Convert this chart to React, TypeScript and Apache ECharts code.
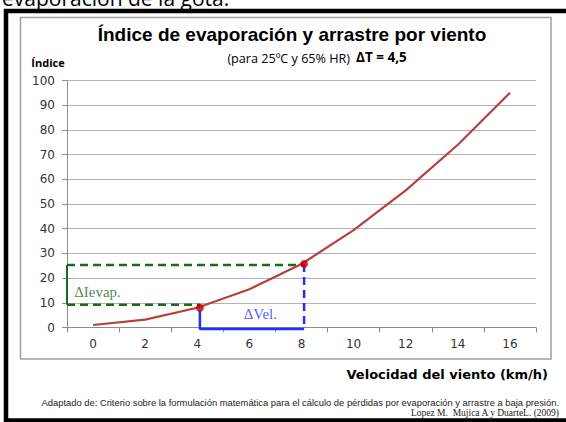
import React, { useEffect, useRef } from "react";
import * as echarts from "echarts";

const categories = ["0", "2", "4", "6", "8", "10", "12", "14", "16"];
const indexValues = [1, 3.2, 8, 15.5, 25.7, 39.4, 55.5, 74, 95];

// annotation points (x in km/h, y in index units)
const markerPoints = [
  [4.1, 8.0],
  [8.1, 25.7],
];
const greenUpper = [
  [-1, 25.3],
  [8.1, 25.3],
];
const greenLower = [
  [-1, 9.2],
  [4.1, 9.2],
];
const greenVertical = [
  [-1, 25.3],
  [-1, 9.2],
];
const blueDashed = [
  [8.1, 25.7],
  [8.1, -0.6],
];
const blueBracket = [
  [4.1, 7.0],
  [4.1, -0.6],
  [8.1, -0.6],
];
const annotationTexts = ["ΔIevap.", "ΔVel."];
const annotationPos = [
  [0.17, 14.5],
  [6.42, 5.4],
];

const titleText = "Índice de evaporación y arrastre por viento";
const subtitleText = "(para 25ºC y 65% HR)";
const deltaTText = "ΔT = 4,5";
const yName = "Índice";
const xName = "Velocidad del viento (km/h)";
const footer1 =
  "Adaptado de: Criterio sobre la formulación matemática para el cálculo de pérdidas por evaporación y arrastre a baja presión.";
const footer2 = "Lopez M.  Mujica A y DuarteL. (2009)";
const topClipped = "evaporación de la gota.";

export default function App() {
  const ref = useRef<HTMLDivElement>(null);
  useEffect(() => {
    if (!ref.current) return;
    const chart = echarts.init(ref.current, undefined, { renderer: "svg" });
    const green = "#1b6b1b";
    const blue = "#1f2fff";
    chart.setOption({
      animation: false,
      backgroundColor: "#ffffff",
      grid: { left: 67, right: 30, top: 80.5, bottom: 94.5 },
      xAxis: [
        {
          type: "category",
          data: categories,
          boundaryGap: true,
          axisLine: { onZero: false, lineStyle: { color: "#8c8c8c", width: 1 } },
          axisTick: { show: true, length: 5, lineStyle: { color: "#8c8c8c" } },
          axisLabel: {
            margin: 10,
            fontFamily: "DejaVu Sans",
            fontSize: 12,
            color: "#333",
          },
          splitLine: { show: false },
        },
        { type: "value", min: -1, max: 17, show: false },
      ],
      yAxis: {
        type: "value",
        min: 0,
        max: 100,
        interval: 10,
        axisLine: { show: true, onZero: false, lineStyle: { color: "#8c8c8c", width: 1 } },
        axisTick: { show: true, length: 5, lineStyle: { color: "#8c8c8c" } },
        axisLabel: {
          margin: 12,
          fontFamily: "DejaVu Sans",
          fontSize: 12,
          color: "#333",
        },
        splitLine: { lineStyle: { color: "#b4b4b4", width: 1 } },
      },
      graphic: [
        {
          type: "rect",
          shape: { x: 6, y: 11, width: 580, height: 409.5 },
          style: { fill: "none", stroke: "#000", lineWidth: 4.5 },
          silent: true,
        },
        {
          type: "rect",
          shape: { x: 20.5, y: 17.5, width: 530.5, height: 341.5 },
          style: { fill: "none", stroke: "#a0a0a0", lineWidth: 1.5 },
          silent: true,
        },
        {
          type: "text",
          x: 2,
          y: -2,
          style: {
            text: topClipped,
            font: "21px 'Open Sans'",
            fill: "#000",
            textAlign: "left",
            textVerticalAlign: "middle",
          },
        },
        {
          type: "text",
          x: 292,
          y: 34,
          style: {
            text: titleText,
            font: "bold 19px 'Liberation Sans'",
            fill: "#000",
            textAlign: "center",
            textVerticalAlign: "middle",
          },
        },
        {
          type: "text",
          x: 350,
          y: 58,
          style: {
            text: subtitleText,
            font: "12.6px 'Open Sans'",
            fill: "#000",
            textAlign: "right",
            textVerticalAlign: "middle",
          },
        },
        {
          type: "text",
          x: 356,
          y: 57,
          style: {
            text: deltaTText,
            font: "bold 13.5px 'Open Sans'",
            fill: "#000",
            textAlign: "left",
            textVerticalAlign: "middle",
          },
        },
        {
          type: "text",
          x: 48,
          y: 62,
          style: {
            text: yName,
            font: "bold 11px 'Open Sans'",
            fill: "#000",
            textAlign: "center",
            textVerticalAlign: "middle",
          },
        },
        {
          type: "text",
          x: 548,
          y: 374,
          style: {
            text: xName,
            font: "bold 13px 'DejaVu Sans'",
            fill: "#000",
            textAlign: "right",
            textVerticalAlign: "middle",
          },
        },
        {
          type: "text",
          x: 559,
          y: 402,
          style: {
            text: footer1,
            font: "9.4px 'Liberation Sans'",
            fill: "#222",
            textAlign: "right",
            textVerticalAlign: "middle",
          },
        },
        {
          type: "text",
          x: 559,
          y: 412.5,
          style: {
            text: footer2,
            font: "9.5px 'Liberation Serif'",
            fill: "#222",
            textAlign: "right",
            textVerticalAlign: "middle",
          },
        },
      ],
      series: [
        {
          type: "line",
          name: "Índice",
          data: indexValues,
          symbol: "none",
          lineStyle: { color: "#b8403c", width: 2.2 },
          z: 3,
        },
        {
          type: "line",
          xAxisIndex: 1,
          data: greenUpper,
          symbol: "none",
          clip: false,
          lineStyle: { color: green, width: 2.5, type: [8, 5] },
          z: 2,
        },
        {
          type: "line",
          xAxisIndex: 1,
          data: greenLower,
          symbol: "none",
          clip: false,
          lineStyle: { color: green, width: 2.5, type: [8, 5] },
          z: 2,
        },
        {
          type: "line",
          xAxisIndex: 1,
          data: greenVertical,
          symbol: "none",
          clip: false,
          lineStyle: { color: green, width: 2 },
          z: 2,
        },
        {
          type: "line",
          xAxisIndex: 1,
          data: blueDashed,
          symbol: "none",
          clip: false,
          lineStyle: { color: blue, width: 2.5, type: [8, 5] },
          z: 2,
        },
        {
          type: "line",
          xAxisIndex: 1,
          data: blueBracket,
          symbol: "none",
          clip: false,
          lineStyle: { color: blue, width: 2.5 },
          z: 2,
        },
        {
          type: "scatter",
          xAxisIndex: 1,
          data: markerPoints,
          symbol: "circle",
          symbolSize: 8,
          itemStyle: { color: "#c00000" },
          z: 5,
        },
        {
          type: "scatter",
          xAxisIndex: 1,
          symbolSize: 0,
          data: annotationPos.map((p, i) => ({
            value: p,
            label: {
              show: true,
              position: "inside",
              formatter: annotationTexts[i],
              fontFamily: "Liberation Serif",
              fontSize: 15,
              color: i === 0 ? green : blue,
            },
          })),
          z: 6,
        },
      ],
    });
    return () => chart.dispose();
  }, []);
  return (
    <div
      ref={ref}
      style={{ position: "fixed", left: 0, top: 0, width: 566, height: 422 }}
    />
  );
}
